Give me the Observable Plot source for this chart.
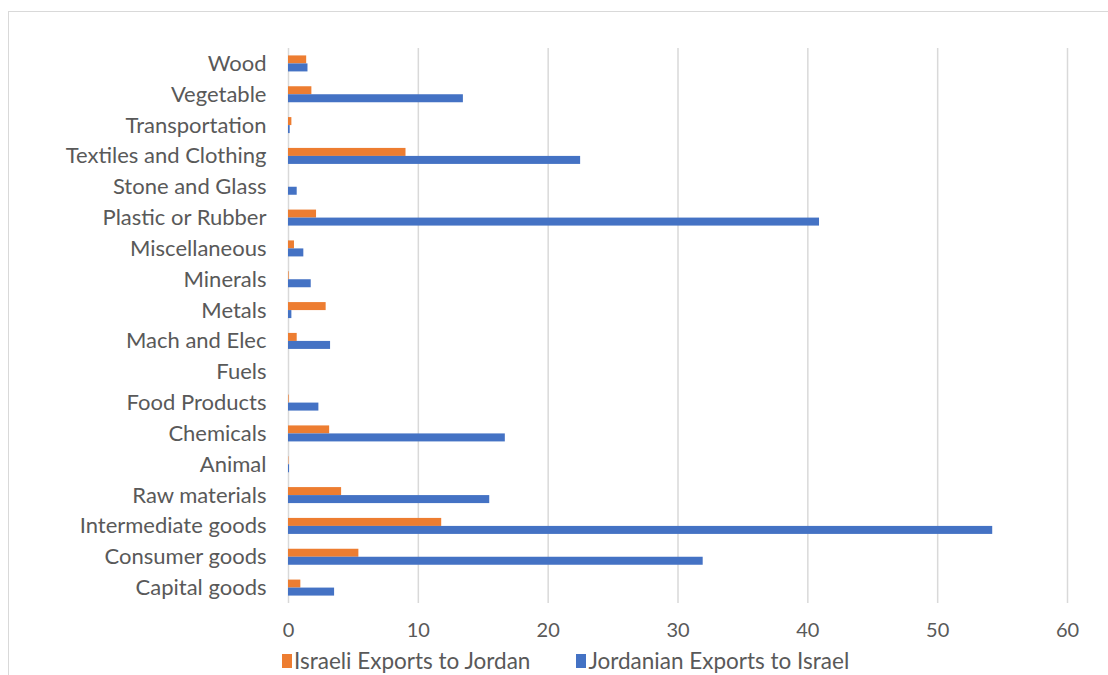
<!DOCTYPE html>
<html>
<head>
<meta charset="utf-8">
<script src="https://cdn.jsdelivr.net/npm/d3@7"></script>
<script src="https://cdn.jsdelivr.net/npm/@observablehq/plot@0.6"></script>
<style>
  html, body { margin: 0; padding: 0; background: #fff; width: 1108px; height: 675px; overflow: hidden; }
  #frame { position: absolute; left: 8px; top: 11px; width: 1200px; height: 800px; border: 1px solid #d9d9d9; box-sizing: border-box; }
  #chart { position: absolute; left: 0; top: 0; }
  #legend { position: absolute; top: 647px; left: 282px; font-family: Lato, "Liberation Sans", sans-serif; font-size: 22.5px; line-height: 28px; color: #595959; display: flex; align-items: center; white-space: nowrap; }
  .sw { display: inline-block; width: 10px; height: 14px; margin-right: 2px; }
  .item { display: flex; align-items: center; margin-right: 46px; }
</style>
</head>
<body>
<div id="frame"></div>
<div id="chart"></div>
<div id="legend"></div>
<script>
const categories = ["Wood","Vegetable","Transportation","Textiles and Clothing","Stone and Glass","Plastic or Rubber","Miscellaneous","Minerals","Metals","Mach and Elec","Fuels","Food Products","Chemicals","Animal","Raw materials","Intermediate goods","Consumer goods","Capital goods"];
const israeli = [1.4,1.8,0.26,9.05,0,2.16,0.46,0.05,2.9,0.67,0,0.05,3.17,0.03,4.09,11.8,5.42,0.95];
const jordanian = [1.5,13.47,0.13,22.5,0.67,40.9,1.18,1.75,0.26,3.24,0,2.34,16.7,0.08,15.5,54.24,31.94,3.55];
const seriesNames = ["Israeli Exports to Jordan","Jordanian Exports to Israel"];
const seriesColors = ["#ED7D31","#4472C4"];
const xTicks = [0,10,20,30,40,50,60];

const isrData = categories.map((c,i)=>({category:c, value:israeli[i]}));
const jorData = categories.map((c,i)=>({category:c, value:jordanian[i]}));

const H = 648, MT = 48, MB = 45;
const band = (H - MT - MB) / categories.length;
const barH = 8;

const chart = Plot.plot({
  width: 1108,
  height: H,
  marginTop: MT,
  marginBottom: MB,
  marginLeft: 288,
  marginRight: 41,
  style: {fontFamily: "Lato, 'Liberation Sans', sans-serif", background: "transparent"},
  x: {domain: [0, 60]},
  y: {domain: categories, padding: 0, round: false},
  marks: [
    Plot.ruleX(xTicks, {stroke: "#d9d9d9", strokeWidth: 1.5}),
    Plot.barX(isrData, {x: "value", y: "category", fill: seriesColors[0], insetTop: band/2 - barH, insetBottom: band/2}),
    Plot.barX(jorData, {x: "value", y: "category", fill: seriesColors[1], insetTop: band/2, insetBottom: band/2 - barH}),
    Plot.axisY({tickSize: 0, tickPadding: 22, fontSize: 22, color: "#595959", label: null}),
    Plot.axisX({ticks: xTicks, tickSize: 0, tickPadding: 19, fontSize: 20, color: "#595959", label: null})
  ]
});
document.getElementById("chart").appendChild(chart);

const legend = document.getElementById("legend");
seriesNames.forEach((n,i)=>{
  const it = document.createElement("div");
  it.className = "item";
  it.innerHTML = `<span class="sw" style="background:${seriesColors[i]}"></span><span>${n}</span>`;
  legend.appendChild(it);
});
</script>
</body>
</html>
